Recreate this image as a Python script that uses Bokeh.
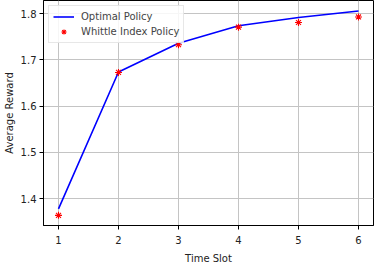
from bokeh.plotting import figure
from bokeh.models import FixedTicker, Range1d
from bokeh.embed import file_html
from bokeh.resources import INLINE

time_slots = [1, 2, 3, 4, 5, 6]
optimal_policy = [1.378, 1.674, 1.736, 1.774, 1.792, 1.806]
whittle_policy = [1.364, 1.673, 1.733, 1.771, 1.781, 1.793]
x_ticks = [1, 2, 3, 4, 5, 6]
y_ticks = [1.4, 1.5, 1.6, 1.7, 1.8]

p = figure(frame_width=330, frame_height=225, output_backend="svg", toolbar_location=None,
           x_range=Range1d(0.75, 6.25), y_range=Range1d(1.342, 1.8286),
           min_border_left=0, min_border_right=1, min_border_top=0, min_border_bottom=0)

p.line(time_slots, optimal_policy, line_color="blue", line_width=1.6, legend_label="Optimal Policy")
p.scatter(time_slots, whittle_policy, marker="asterisk", size=7, line_color="red", line_width=1.1,
          legend_label="Whittle Index Policy")

font = "DejaVu Sans"
for ax in (p.xaxis, p.yaxis):
    ax.major_label_text_font = font
    ax.major_label_text_font_size = "10px"
    ax.major_label_text_color = "#222222"
    ax.axis_label_text_font = font
    ax.axis_label_text_font_size = "10px"
    ax.axis_label_text_font_style = "normal"
    ax.axis_label_text_color = "#222222"
    ax.minor_tick_line_color = None
    ax.major_tick_in = 0
    ax.major_tick_out = 4
    ax.major_tick_line_color = "black"
    ax.axis_line_color = "black"
    ax.major_label_standoff = 3
    ax.axis_label_standoff = 3

p.xaxis.major_label_standoff = 6
p.xaxis.axis_label_standoff = 6

p.xaxis.ticker = FixedTicker(ticks=x_ticks)
p.yaxis.ticker = FixedTicker(ticks=y_ticks)
p.xaxis.axis_label = "Time Slot"
p.yaxis.axis_label = "Average Reward"

p.xgrid.ticker = FixedTicker(ticks=x_ticks)
p.ygrid.ticker = FixedTicker(ticks=y_ticks)
p.grid.grid_line_color = "#c4c4c4"
p.grid.grid_line_width = 1

p.outline_line_color = "black"
p.outline_line_width = 1

p.legend.location = "top_left"
p.legend.margin = 5
p.legend.padding = 4
p.legend.spacing = 2
p.legend.label_text_font = font
p.legend.label_text_font_size = "10px"
p.legend.glyph_width = 21
p.legend.glyph_height = 13
p.legend.label_standoff = 7
p.legend.border_line_color = "#d0d0d0"
p.legend.background_fill_alpha = 0.85

open("out.html", "w").write(file_html(p, INLINE))
